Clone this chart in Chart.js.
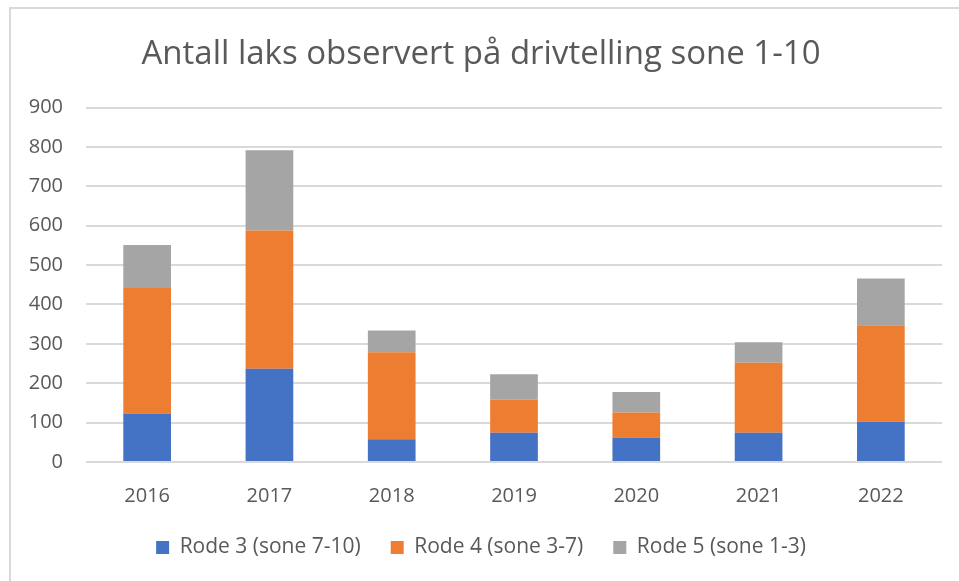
<!DOCTYPE html>
<html>
<head>
<meta charset="utf-8">
<script src="https://cdn.jsdelivr.net/npm/chart.js@4.4.0/dist/chart.umd.min.js"></script>
<style>
  html, body { margin: 0; padding: 0; background: #fff; }
  #wrap { position: relative; width: 959px; height: 581px; }
  #frame { position: absolute; left: 9px; top: 7px; right: 0; bottom: 0;
           border-left: 2px solid #d9d9d9; border-top: 2px solid #d9d9d9; }
  canvas { position: absolute; left: 0; top: 0; }
</style>
</head>
<body>
<div id="wrap">
  <div id="frame"></div>
  <canvas id="grafico" width="959" height="581"></canvas>
</div>
<script>
// Data
const years = ['2016', '2017', '2018', '2019', '2020', '2021', '2022'];
const rode3 = [123, 237, 58, 74, 62, 74, 102];
const rode4 = [319, 351, 221, 85, 64, 178, 245];
const rode5 = [109, 204, 55, 64, 52, 52, 119];
const seriesNames = ['Rode 3 (sone 7-10)', 'Rode 4 (sone 3-7)', 'Rode 5 (sone 1-3)'];
const yTicks = [0, 100, 200, 300, 400, 500, 600, 700, 800, 900];

const textColor = '#595959';
const fontFamily = "'Open Sans', 'Liberation Sans', sans-serif";

const ctx = document.getElementById('grafico').getContext('2d');

const chart = new Chart(ctx, {
  type: 'bar',
  data: {
    labels: years,
    datasets: [
      { label: seriesNames[0], data: rode3, backgroundColor: '#4472c4' },
      { label: seriesNames[1], data: rode4, backgroundColor: '#ed7d31' },
      { label: seriesNames[2], data: rode5, backgroundColor: '#a5a5a5' }
    ]
  },
  options: {
    responsive: false,
    animation: false,
    datasets: {
      bar: { barPercentage: 0.39, categoryPercentage: 1.0 }
    },
    layout: { padding: { left: 20, right: 17, top: 20, bottom: 13 } },
    plugins: {
      title: {
        display: true,
        text: 'Antall laks observert på drivtelling sone 1-10',
        color: textColor,
        font: { family: fontFamily, size: 33, weight: 'normal' },
        padding: { top: 15, bottom: 33 }
      },
      legend: {
        position: 'bottom',
        labels: {
          color: textColor,
          font: { family: fontFamily, size: 21 },
          boxWidth: 13,
          boxHeight: 13,
          padding: 30
        }
      },
      tooltip: { enabled: false }
    },
    scales: {
      x: {
        stacked: true,
        grid: { display: false },
        border: { display: false },
        afterFit: function(scale) { scale.height = 45; },
        ticks: { color: textColor, font: { family: fontFamily, size: 20 }, padding: 14 }
      },
      y: {
        stacked: true,
        min: 0,
        max: 900,
        afterBuildTicks: function(scale) {
          scale.ticks = yTicks.map(v => ({ value: v }));
        },
        afterFit: function(scale) { scale.width = 66; },
        grid: { color: '#d9d9d9', lineWidth: 2, drawTicks: false },
        border: { display: false },
        ticks: { color: textColor, font: { family: fontFamily, size: 20 }, padding: 23 }
      }
    }
  }
});
</script>
</body>
</html>
